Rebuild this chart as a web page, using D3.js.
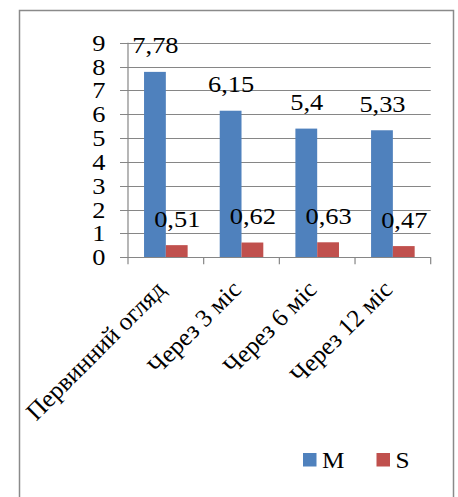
<!DOCTYPE html>
<html>
<head>
<meta charset="utf-8">
<script src="https://cdn.jsdelivr.net/npm/d3@7"></script>
<style>
  html, body { margin: 0; padding: 0; background: #fff; }
  svg { display: block; }
</style>
</head>
<body>
<svg id="chart" width="458" height="497"></svg>
<script>
// Categories (examination time points) and series values
const categories = ["Первинний огляд", "Через 3 міс", "Через 6 міс", "Через 12 міс"];
const seriesNames = ["M", "S"];
const valuesM = [7.78, 6.15, 5.4, 5.33];
const valuesS = [0.51, 0.62, 0.63, 0.47];
const labelsM = ["7,78", "6,15", "5,4", "5,33"];
const labelsS = ["0,51", "0,62", "0,63", "0,47"];
const yTicks = [0, 1, 2, 3, 4, 5, 6, 7, 8, 9];
const colors = ["#4F81BD", "#C0504D"];

const FONT = '"Liberation Serif"';
const SX = 1.1; // slightly widened glyphs
const svg = d3.select("#chart");
const plot = { left: 128, right: 430.7, top: 42.8, bottom: 257.3 };

// chart frame
svg.append("rect")
  .attr("x", 19.5).attr("y", 10.5)
  .attr("width", 434).attr("height", 500)
  .attr("fill", "#fff").attr("stroke", "#8a8a8a").attr("stroke-width", 1.5);

const x = d3.scaleBand().domain(categories).range([plot.left, plot.right]).paddingInner(0).paddingOuter(0);
const y = d3.scaleLinear().domain([0, 9]).range([plot.bottom, plot.top]);
const barW = x.bandwidth() * 0.288;

// horizontal gridlines with outward tick marks
svg.append("g").selectAll("line").data(yTicks).join("line")
  .attr("x1", plot.left - 8).attr("x2", plot.right)
  .attr("y1", d => Math.round(y(d)) + 0.5).attr("y2", d => Math.round(y(d)) + 0.5)
  .attr("stroke", "#868686").attr("stroke-width", 1.2);

// y tick labels
svg.append("g").selectAll("text").data(yTicks).join("text")
  .attr("transform", d => `translate(105.5,${y(d) + 8}) scale(${SX},1)`)
  .attr("text-anchor", "end")
  .style("font-family", FONT).style("font-size", "24px")
  .text(d => d);

// bars and value labels
const series = [valuesM, valuesS];
const seriesLabels = [labelsM, labelsS];
series.forEach((vals, si) => {
  const g = svg.append("g");
  g.selectAll("rect").data(vals).join("rect")
    .attr("x", (d, i) => x(categories[i]) + x.bandwidth() / 2 - barW + si * barW)
    .attr("y", d => y(d))
    .attr("width", barW)
    .attr("height", d => y(0) - y(d))
    .attr("fill", colors[si]);
  g.selectAll("text").data(vals).join("text")
    .attr("transform", (d, i) =>
      `translate(${x(categories[i]) + x.bandwidth() / 2 - barW / 2 + si * barW + 0.5},${y(d) - 18.4}) scale(${SX},1)`)
    .attr("text-anchor", "middle")
    .style("font-family", FONT).style("font-size", "24px")
    .text((d, i) => seriesLabels[si][i]);
});

// axis lines
svg.append("line")
  .attr("x1", plot.left).attr("x2", plot.left)
  .attr("y1", plot.top).attr("y2", plot.bottom)
  .attr("stroke", "#868686").attr("stroke-width", 1.2);
svg.append("line")
  .attr("x1", plot.left).attr("x2", plot.right)
  .attr("y1", Math.round(plot.bottom) + 0.5).attr("y2", Math.round(plot.bottom) + 0.5)
  .attr("stroke", "#868686").attr("stroke-width", 1.2);

// x tick marks at category boundaries
const bounds = categories.map(c => x(c)).concat([plot.right]);
svg.append("g").selectAll("line").data(bounds).join("line")
  .attr("x1", d => d).attr("x2", d => d)
  .attr("y1", plot.bottom).attr("y2", plot.bottom + 7)
  .attr("stroke", "#868686").attr("stroke-width", 1.2);

// rotated category labels
svg.append("g").selectAll("text").data(categories).join("text")
  .attr("transform", d => `translate(${x(d) + x.bandwidth() / 2 + 1},291) rotate(-45)`)
  .attr("text-anchor", "end")
  .style("font-family", FONT).style("font-size", "25px")
  .text(d => d);

// legend
const legend = svg.append("g");
const legendX = [303, 376.5];
seriesNames.forEach((name, i) => {
  legend.append("rect")
    .attr("x", legendX[i]).attr("y", 453)
    .attr("width", 13.5).attr("height", 13.5)
    .attr("fill", colors[i]);
  legend.append("text")
    .attr("transform", `translate(${legendX[i] + 19},467.5) scale(${SX},1)`)
    .style("font-family", FONT).style("font-size", "23px")
    .text(name);
});
</script>
</body>
</html>
